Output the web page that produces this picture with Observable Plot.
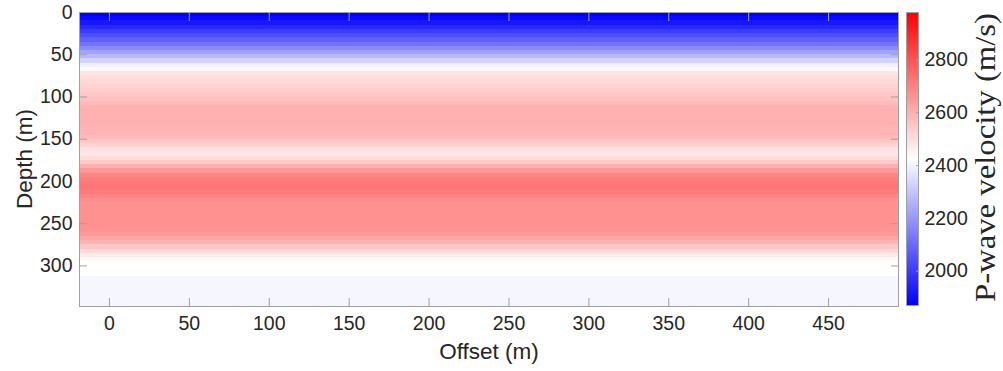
<!DOCTYPE html>
<html>
<head>
<meta charset="utf-8">
<script src="https://cdn.jsdelivr.net/npm/d3@7"></script>
<script src="https://cdn.jsdelivr.net/npm/@observablehq/plot@0.6"></script>
<style>
  html, body { margin: 0; padding: 0; background: #fff; }
  #wrap { position: relative; width: 1003px; height: 371px; overflow: hidden; }
  #main { position: absolute; left: 0; top: 0; }
  #cbar { position: absolute; left: 900px; top: 0; }
</style>
</head>
<body>
<div id="wrap"><div id="main"></div><div id="cbar"></div></div>
<script>
// ---- data ----
const offsetExtent = [-18.75, 493.75];          // m
const depthMax = 348;                            // m
const layerTop = [0,5,10,15,20,25,30,35,40,45,50,55,60,65,70,75,80,85,90,95,100,105,110,115,120,125,130,135,140,145,150,155,160,165,170,175,180,185,190,195,200,205,210,215,220,225,230,235,240,245,250,255,260,265,270,275,280,285,290,295,300,305,312.5];
const velocity = [1870,1890,1920,1960,2000,2040,2080,2120,2170,2220,2270,2330,2390,2440,2480,2500,2510,2520,2530,2545,2560,2575,2590,2595,2595,2595,2595,2590,2585,2575,2550,2520,2490,2480,2500,2540,2600,2650,2690,2710,2720,2725,2715,2690,2670,2665,2665,2665,2665,2665,2665,2660,2650,2620,2590,2550,2510,2470,2440,2425,2425,2425,2405];
const xTicks = [0,50,100,150,200,250,300,350,400,450];
const yTicks = [0,50,100,150,200,250,300];
const cbTicks = [2000,2200,2400,2600,2800];
const vRange = [1870, 2425, 2980];
const xLabel = "Offset (m)";
const yLabel = "Depth (m)";
const cbLabel = "P-wave velocity (m/s)";

// ---- build tables ----
const layers = layerTop.map((t, i) => ({
  top: t,
  bottom: i < layerTop.length - 1 ? layerTop[i + 1] : depthMax,
  v: velocity[i]
}));
const rampStep = 2;
const ramp = d3.range(vRange[0], vRange[2], rampStep);

const colorScale = {
  type: "linear",
  domain: vRange,
  range: ["#0000ff", "#ffffff", "#ff0000"],
  interpolate: "rgb"
};
const axisGray = "#a0a0a0";
const txt = "#262626";
const fnt = "'Liberation Sans', Arial, sans-serif";

const main = Plot.plot({
  width: 900, height: 371,
  marginLeft: 79, marginRight: 2, marginTop: 12, marginBottom: 65,
  x: {domain: offsetExtent},
  y: {domain: [0, depthMax], reverse: true},
  color: colorScale,
  style: {fontFamily: fnt, fontSize: "19px", color: txt, background: "#fff", overflow: "visible"},
  marks: [
    Plot.rect(layers, {x1: () => offsetExtent[0], x2: () => offsetExtent[1], y1: "top", y2: "bottom", fill: "v", clip: true, shapeRendering: "crispEdges"}),
    Plot.frame({stroke: axisGray}),
    Plot.axisX({anchor: "bottom", ticks: xTicks, tickSize: -8, tickPadding: 18, stroke: axisGray, fill: txt, fontSize: 19.5, label: null}),
    Plot.axisX({anchor: "top", ticks: xTicks, tickSize: -8, tickFormat: () => "", stroke: axisGray, label: null}),
    Plot.axisY({anchor: "left", ticks: yTicks, tickSize: -8, tickPadding: 15, stroke: axisGray, fill: txt, fontSize: 19.5, label: null}),
    Plot.axisY({anchor: "right", ticks: yTicks, tickSize: -8, tickFormat: () => "", stroke: axisGray, label: null}),
    Plot.text([xLabel], {text: d => d, frameAnchor: "bottom", dy: 52, fontSize: 22.5, fill: txt})
  ]
});
document.getElementById("main").appendChild(main);

d3.select(main).append("text")
  .attr("transform", "translate(24,159) rotate(-90)")
  .attr("text-anchor", "middle")
  .attr("dominant-baseline", "central")
  .attr("font-family", fnt)
  .attr("font-size", 22.5)
  .attr("fill", txt)
  .text(yLabel);

const cbar = Plot.plot({
  width: 103, height: 371,
  marginLeft: 6, marginRight: 85, marginTop: 12, marginBottom: 66,
  x: {domain: [0, 1], axis: null},
  y: {domain: [vRange[0], vRange[2]]},
  color: colorScale,
  style: {fontFamily: fnt, fontSize: "19px", color: txt, background: "#fff", overflow: "visible"},
  marks: [
    Plot.rect(ramp, {x1: () => 0, x2: () => 1, y1: d => d, y2: d => Math.min(d + rampStep, vRange[2]), fill: d => d + rampStep / 2, shapeRendering: "crispEdges"}),
    Plot.frame({stroke: axisGray}),
    Plot.axisY({anchor: "right", ticks: cbTicks, tickSize: -3, tickPadding: 9, tickFormat: d3.format("d"), stroke: axisGray, fill: txt, fontSize: 19.5, label: null})
  ]
});
document.getElementById("cbar").appendChild(cbar);

// colorbar title (LaTeX-like serif)
d3.select(cbar).append("text")
  .attr("transform", "translate(95,157.5) rotate(-90)")
  .attr("text-anchor", "middle")
  .attr("font-family", "'Liberation Serif', 'DejaVu Serif', serif")
  .attr("font-size", 29)
  .attr("fill", txt)
  .attr("textLength", 289)
  .attr("lengthAdjust", "spacingAndGlyphs")
  .text(cbLabel);
</script>
</body>
</html>
